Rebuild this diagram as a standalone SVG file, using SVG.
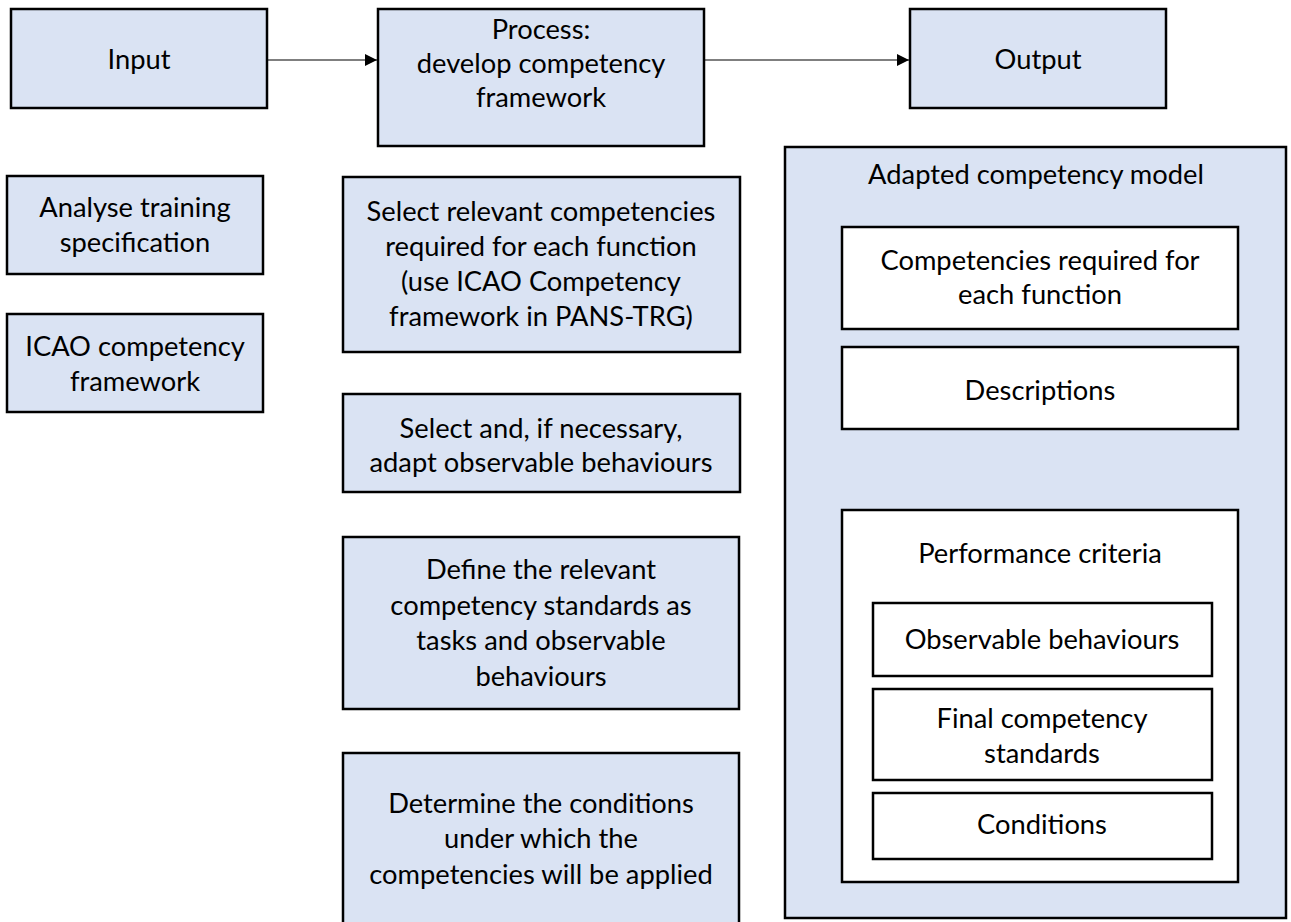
<svg xmlns="http://www.w3.org/2000/svg" width="1291" height="922" viewBox="0 0 1291 922">
<defs>
<style>
.b{fill:#DAE3F3;stroke:#000;stroke-width:2.5}
.w{fill:#FFFFFF;stroke:#000;stroke-width:2.5}
text{font-family:Lato,"Liberation Sans",sans-serif;font-size:27.3px;fill:#000;text-anchor:middle}
.c{stroke:#000;stroke-width:1.2;fill:none}
</style>
<marker id="ah" viewBox="0 0 10 10" refX="10" refY="5" markerWidth="15" markerHeight="12" markerUnits="userSpaceOnUse" orient="auto"><path d="M0,0 L10,5 L0,10 Z" fill="#000"/></marker>
</defs>
<rect width="1291" height="922" fill="#fff"/>
<g id="connectors">
<line class="c" x1="267" y1="60" x2="377" y2="60" marker-end="url(#ah)"/>
<line class="c" x1="704" y1="60" x2="909" y2="60" marker-end="url(#ah)"/>
</g>
<g id="input"><rect class="b" x="11" y="9" width="256" height="99"/><text x="139" y="69">Input</text></g>
<g id="process"><rect class="b" x="378" y="9" width="326" height="137"/><text x="541" y="39">Process:</text><text x="541" y="73">develop competency</text><text x="541" y="107">framework</text></g>
<g id="output"><rect class="b" x="910" y="9" width="256" height="99"/><text x="1038" y="69">Output</text></g>
<g id="analyse"><rect class="b" x="7" y="176" width="256" height="98"/><text x="135" y="217">Analyse training</text><text x="135" y="252">specification</text></g>
<g id="icao"><rect class="b" x="7" y="314" width="256" height="98"/><text x="135" y="356">ICAO competency</text><text x="135" y="391">framework</text></g>
<g id="select-competencies"><rect class="b" x="343" y="177" width="397" height="175"/><text x="541" y="221">Select relevant competencies</text><text x="541" y="256">required for each function</text><text x="541" y="291">(use ICAO Competency</text><text x="541" y="326">framework in PANS-TRG)</text></g>
<g id="select-behaviours"><rect class="b" x="343" y="394" width="397" height="98"/><text x="541" y="438">Select and, if necessary,</text><text x="541" y="472">adapt observable behaviours</text></g>
<g id="define-standards"><rect class="b" x="343" y="537" width="396" height="172"/><text x="541" y="579">Define the relevant</text><text x="541" y="615">competency standards as</text><text x="541" y="650">tasks and observable</text><text x="541" y="686">behaviours</text></g>
<g id="determine-conditions"><rect class="b" x="343" y="753" width="396" height="175"/><text x="541" y="813">Determine the conditions</text><text x="541" y="848">under which the</text><text x="541" y="884">competencies will be applied</text></g>
<g id="adapted-model"><rect class="b" x="785" y="147" width="501" height="771"/><text x="1036" y="184">Adapted competency model</text></g>
<g id="competencies-required"><rect class="w" x="842" y="227" width="396" height="102"/><text x="1040" y="270">Competencies required for</text><text x="1040" y="304">each function</text></g>
<g id="descriptions"><rect class="w" x="842" y="347" width="396" height="82"/><text x="1040" y="400">Descriptions</text></g>
<g id="performance-criteria"><rect class="w" x="842" y="510" width="396" height="372"/><text x="1040" y="563">Performance criteria</text></g>
<g id="observable-behaviours"><rect class="w" x="873" y="603" width="339" height="73"/><text x="1042" y="649">Observable behaviours</text></g>
<g id="final-standards"><rect class="w" x="873" y="689" width="339" height="91"/><text x="1042" y="728">Final competency</text><text x="1042" y="763">standards</text></g>
<g id="conditions"><rect class="w" x="873" y="793" width="339" height="66"/><text x="1042" y="834">Conditions</text></g>
</svg>
